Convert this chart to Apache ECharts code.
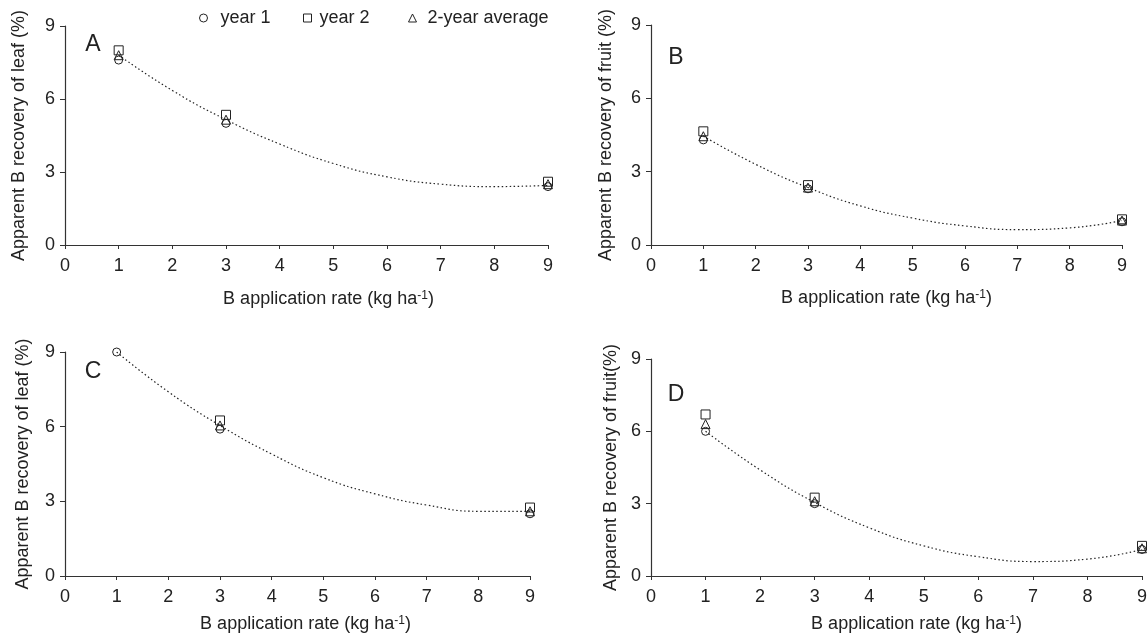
<!DOCTYPE html>
<html>
<head>
<meta charset="utf-8">
<title>Apparent B recovery</title>
<script src="https://cdn.jsdelivr.net/npm/echarts@6.0.0/dist/echarts.min.js"></script>
<style>
  html, body { margin: 0; padding: 0; background: #fff; }
  #chart { width: 1148px; height: 639px; }
</style>
</head>
<body>
<div id="chart"></div>
<script>
// B application rates where recovery was measured (kg/ha)
const rates = [1, 3, 9];
const fitRates = [1, 2, 3, 4, 5, 6, 7, 8, 9];
const xTicks = [0, 1, 2, 3, 4, 5, 6, 7, 8, 9];
const yTicks = [0, 3, 6, 9];
const seriesNames = ["year 1", "year 2", "2-year average"];

// A - leaf
const aYear1 = [7.6, 5.0, 2.4];
const aYear2 = [8.0, 5.35, 2.6];
const aAvg = [7.8, 5.15, 2.5];
const aFit = [7.8, 6.35, 5.15, 4.15, 3.35, 2.8, 2.5, 2.4, 2.45];
// B - fruit
const bYear1 = [4.3, 2.3, 0.95];
const bYear2 = [4.65, 2.45, 1.05];
const bAvg = [4.45, 2.35, 1.0];
const bFit = [4.45, 3.3, 2.35, 1.6, 1.1, 0.78, 0.63, 0.7, 1.0];
// C - leaf
const cYear1 = [9.0, 5.9, 2.5];
const cYear2 = [null, 6.25, 2.75];
const cAvg = [null, 6.05, 2.6];
const cFit = [9.0, 7.4, 6.05, 4.9, 3.95, 3.3, 2.85, 2.6, 2.6];
// D - fruit
const dYear1 = [6.0, 3.0, 1.1];
const dYear2 = [6.7, 3.25, 1.25];
const dAvg = [6.3, 3.1, 1.15];
const dFit = [6.0, 4.4, 3.05, 2.0, 1.25, 0.8, 0.6, 0.7, 1.1];

const FONT = "'Liberation Sans', Arial, sans-serif";
const INK = "#222";
const CLEAR = "rgba(255,255,255,0)";

// layout of the four panels
const panels = [
  { letter: "A", lx: 93, ly: 45, grid: { left: 65, top: 26, width: 483, height: 219 },
    yName: "Apparent B recovery of leaf (%)", yGap: 37, xGap: 45, xShift: 44,
    data: [aYear1, aYear2, aAvg], fit: aFit },
  { letter: "B", lx: 676, ly: 58, grid: { left: 651, top: 25, width: 471, height: 220 },
    yName: "Apparent B recovery of fruit (%)", yGap: 36, xGap: 44, xShift: 0,
    data: [bYear1, bYear2, bAvg], fit: bFit },
  { letter: "C", lx: 93, ly: 372, grid: { left: 65, top: 352, width: 465, height: 224 },
    yName: "Apparent B recovery of leaf (%)", yGap: 33, xGap: 39, xShift: 16,
    data: [cYear1, cYear2, cAvg], fit: cFit },
  { letter: "D", lx: 676, ly: 395, grid: { left: 651, top: 359, width: 491, height: 217 },
    yName: "Apparent B recovery of fruit(%)", yGap: 31, xGap: 39, xShift: 40,
    data: [dYear1, dYear2, dAvg], fit: dFit },
];

// hollow markers: transparent fill, thin dark outline
const symbols = [
  { symbol: "circle", size: 8 },
  { symbol: "rect", size: 9 },
  { symbol: "triangle", size: 9 },
];

const grids = [];
const xAxes = [];
const yAxes = [];
const series = [];
const graphics = [];

panels.forEach((p, i) => {
  grids.push(Object.assign({ outerBoundsMode: "none", containLabel: false }, p.grid));

  xAxes.push({
    gridIndex: i,
    type: "value",
    min: xTicks[0],
    max: xTicks[xTicks.length - 1],
    interval: xTicks[1] - xTicks[0],
    name: "B application rate (kg ha{sup|-1})",
    nameLocation: "middle",
    nameGap: p.xGap,
    nameTextStyle: {
      fontFamily: FONT, fontSize: 18, color: INK,
      padding: [0, 0, 0, p.xShift],
      rich: { sup: { fontFamily: FONT, fontSize: 12, color: INK, verticalAlign: "top", padding: [0, 0, 6, 0] } },
    },
    axisLine: { lineStyle: { color: "#333", width: 1.2 } },
    axisTick: { length: 4, lineStyle: { color: "#333" } },
    axisLabel: { fontFamily: FONT, fontSize: 18, color: INK, margin: 12 },
    splitLine: { show: false },
  });

  yAxes.push({
    gridIndex: i,
    type: "value",
    min: yTicks[0],
    max: yTicks[yTicks.length - 1],
    interval: yTicks[1] - yTicks[0],
    name: p.yName,
    nameLocation: "middle",
    nameRotate: 90,
    nameGap: p.yGap,
    nameTextStyle: { fontFamily: FONT, fontSize: 18, color: INK },
    axisLine: { show: true, lineStyle: { color: "#333", width: 1.2 } },
    axisTick: { show: true, length: 5, lineStyle: { color: "#333" } },
    axisLabel: { fontFamily: FONT, fontSize: 18, color: INK, margin: 10 },
    splitLine: { show: false },
  });

  // fitted curve
  series.push({
    type: "line",
    xAxisIndex: i,
    yAxisIndex: i,
    data: fitRates.map((x, k) => [x, p.fit[k]]),
    smooth: 0.5,
    showSymbol: false,
    silent: true,
    lineStyle: { color: "#222", width: 1.2, type: [1.5, 2.5] },
    z: 1,
  });

  p.data.forEach((vals, s) => {
    series.push({
      name: seriesNames[s],
      type: "scatter",
      xAxisIndex: i,
      yAxisIndex: i,
      symbol: symbols[s].symbol,
      symbolSize: symbols[s].size,
      itemStyle: { color: CLEAR, borderColor: INK, borderWidth: 1, opacity: 1 },
      data: rates.map((x, k) => [x, vals[k]]).filter((d) => d[1] != null),
      z: 3,
    });
  });

  graphics.push({
    type: "text",
    x: p.lx,
    y: p.ly,
    style: { text: p.letter, font: "23px " + FONT, fill: INK, align: "center", verticalAlign: "middle" },
  });
});

// one legend per entry so each sits where it does in the figure
const legendSpots = [
  { left: 199, pad: 8 },
  { left: 303, pad: 3 },
  { left: 408, pad: 6 },
];
const legends = seriesNames.map((name, k) => ({
  data: [name],
  left: legendSpots[k].left,
  top: 9,
  padding: 0,
  itemWidth: 8,
  itemHeight: 8,
  selectedMode: false,
  itemStyle: { color: CLEAR, borderColor: INK, borderWidth: 1 },
  textStyle: { fontFamily: FONT, fontSize: 18, color: INK, padding: [0, 0, 0, legendSpots[k].pad] },
}));

const chart = echarts.init(document.getElementById("chart"), null, { renderer: "canvas" });
chart.setOption({
  animation: false,
  backgroundColor: "#fff",
  legend: legends,
  grid: grids,
  xAxis: xAxes,
  yAxis: yAxes,
  series: series,
  graphic: graphics,
});
</script>
</body>
</html>
